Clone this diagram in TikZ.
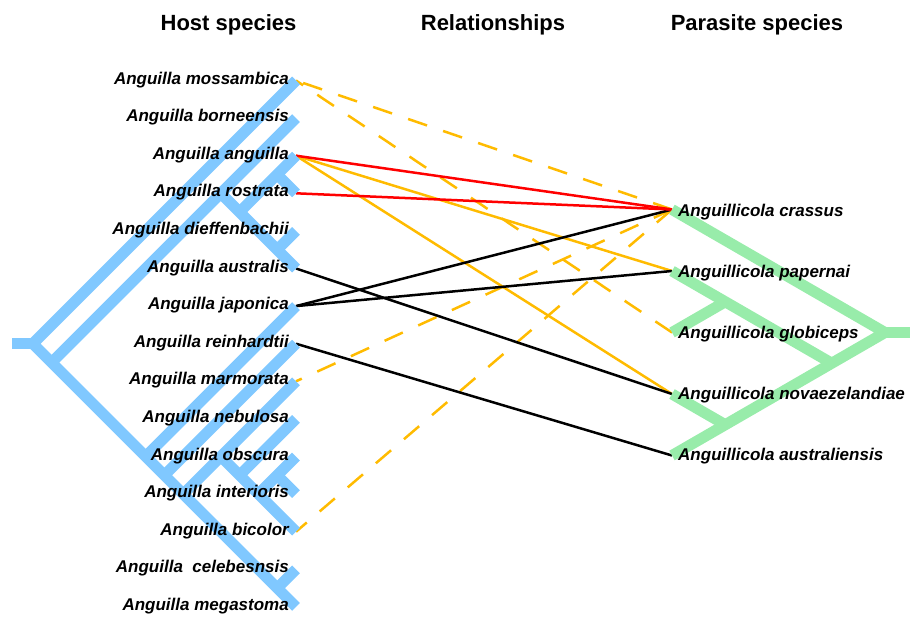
\documentclass[tikz,border=0pt]{standalone}
\usepackage{fontspec}
\setmainfont{Liberation Sans}
\definecolor{hostblue}{RGB}{128,200,255}
\definecolor{pargreen}{RGB}{152,236,170}
\definecolor{linkorange}{RGB}{255,187,0}
\definecolor{linkred}{RGB}{255,0,0}
\begin{document}
\begin{tikzpicture}[x=1pt,y=-1pt,
  hostbr/.style={draw=hostblue, line width=11pt, line join=miter, line cap=butt},
  parbr/.style={draw=pargreen, line width=11pt, line join=miter, line cap=butt},
  conn/.style={line width=2.5pt},
  dashconn/.style={line width=2.5pt, dash pattern=on 20pt off 17pt},
  hostlab/.style={anchor=base east, inner sep=0pt, font=\fontsize{17}{20}\selectfont\bfseries\itshape},
  parlab/.style={anchor=base west, inner sep=0pt, font=\fontsize{17}{20}\selectfont\bfseries\itshape},
  head/.style={anchor=base, inner sep=0pt, font=\fontsize{22}{26}\selectfont\bfseries}
]
\useasboundingbox (0,0) rectangle (910,616);

% host tips
\foreach \i in {0,...,14} { \coordinate (h\i) at (296,{80.5+37.6*\i}); }
\coordinate (hs) at (12,343.7);
\coordinate (R) at (32.8,343.7);
\coordinate (A) at (51.6,362.5);
\coordinate (E) at (220.8,193.3);
\coordinate (C) at (239.6,212.1);
\coordinate (AR) at (277.2,174.5);
\coordinate (DA) at (277.2,249.7);
\coordinate (F) at (145.6,456.5);
\coordinate (G) at (164.4,475.3);
\coordinate (H) at (183.2,494.1);
\coordinate (I) at (220.8,456.5);
\coordinate (J) at (239.6,475.3);
\coordinate (L) at (258.4,494.1);
\coordinate (OI) at (277.2,475.3);
\coordinate (CM) at (277.2,588.1);

% parasite tips
\foreach \j in {0,...,4} { \coordinate (p\j) at (672,{209.5+61.5*\j}); }
\coordinate (PR) at (885,332.5);
\coordinate (ps) at (910,332.5);
\coordinate (PX) at (831.8,363.25);
\coordinate (PG) at (725.3,301.75);
\coordinate (PN) at (725.3,424.75);

% relationships
\draw[dashconn, linkorange] (p0) -- (h0);
\draw[dashconn, linkorange] (p2) -- (h0);
\draw[dashconn, linkorange] (p0) -- (h8);
\draw[dashconn, linkorange] (p0) -- (h12);
\draw[conn, linkorange] (h2) -- (p1);
\draw[conn, linkorange] (h2) -- (p3);
\draw[conn, black] (h5) -- (p3);
\draw[conn, black] (h6) -- (p0);
\draw[conn, black] (h6) -- (p1);
\draw[conn, black] (h7) -- (p4);
\draw[conn, linkred] (h2) -- (p0);
\draw[conn, linkred] (h3) -- (p0);

% host tree
\draw[hostbr] (hs) -- (R);
\draw[hostbr] (h0) -- (R) -- (h14);
\draw[hostbr] (A) -- (h1);
\draw[hostbr] (E) -- (h5);
\draw[hostbr] (C) -- (h2);
\draw[hostbr] (AR) -- (h3);
\draw[hostbr] (DA) -- (h4);
\draw[hostbr] (F) -- (h6);
\draw[hostbr] (G) -- (h7);
\draw[hostbr] (H) -- (h8);
\draw[hostbr] (I) -- (h12);
\draw[hostbr] (J) -- (h9);
\draw[hostbr] (L) -- (h10);
\draw[hostbr] (OI) -- (h11);
\draw[hostbr] (CM) -- (h13);

% parasite tree
\draw[parbr] (ps) -- (PR);
\draw[parbr] (p0) -- (PR) -- (p4);
\draw[parbr] (PX) -- (p1);
\draw[parbr] (PG) -- (p2);
\draw[parbr] (PN) -- (p3);

% headers
\node[head] (hh) at (228.5,30) {Host species};
\node[head] (hr) at (493,30) {Relationships};
\node[head] (hp) at (757,30) {Parasite species};

% host labels
\node[hostlab] (t0) at (289,84.0) {Anguilla mossambica};
\node[hostlab] (t1) at (289,121.6) {Anguilla borneensis};
\node[hostlab] (t2) at (289,159.2) {Anguilla anguilla};
\node[hostlab] (t3) at (289,196.8) {Anguilla rostrata};
\node[hostlab] (t4) at (289,234.4) {Anguilla dieffenbachii};
\node[hostlab] (t5) at (289,272.0) {Anguilla australis};
\node[hostlab] (t6) at (289,309.6) {Anguilla japonica};
\node[hostlab] (t7) at (289,347.2) {Anguilla reinhardtii};
\node[hostlab] (t8) at (289,384.8) {Anguilla marmorata};
\node[hostlab] (t9) at (289,422.4) {Anguilla nebulosa};
\node[hostlab] (t10) at (289,460.0) {Anguilla obscura};
\node[hostlab] (t11) at (289,497.6) {Anguilla interioris};
\node[hostlab] (t12) at (289,535.2) {Anguilla bicolor};
\node[hostlab] (t13) at (289,572.8) {Anguilla\ \ celebesnsis};
\node[hostlab] (t14) at (289,610.4) {Anguilla megastoma};

% parasite labels
\node[parlab] (q0) at (678,216) {Anguillicola crassus};
\node[parlab] (q1) at (678,277) {Anguillicola papernai};
\node[parlab] (q2) at (678,338) {Anguillicola globiceps};
\node[parlab] (q3) at (678,399) {Anguillicola novaezelandiae};
\node[parlab] (q4) at (678,460) {Anguillicola australiensis};
\end{tikzpicture}
\end{document}
